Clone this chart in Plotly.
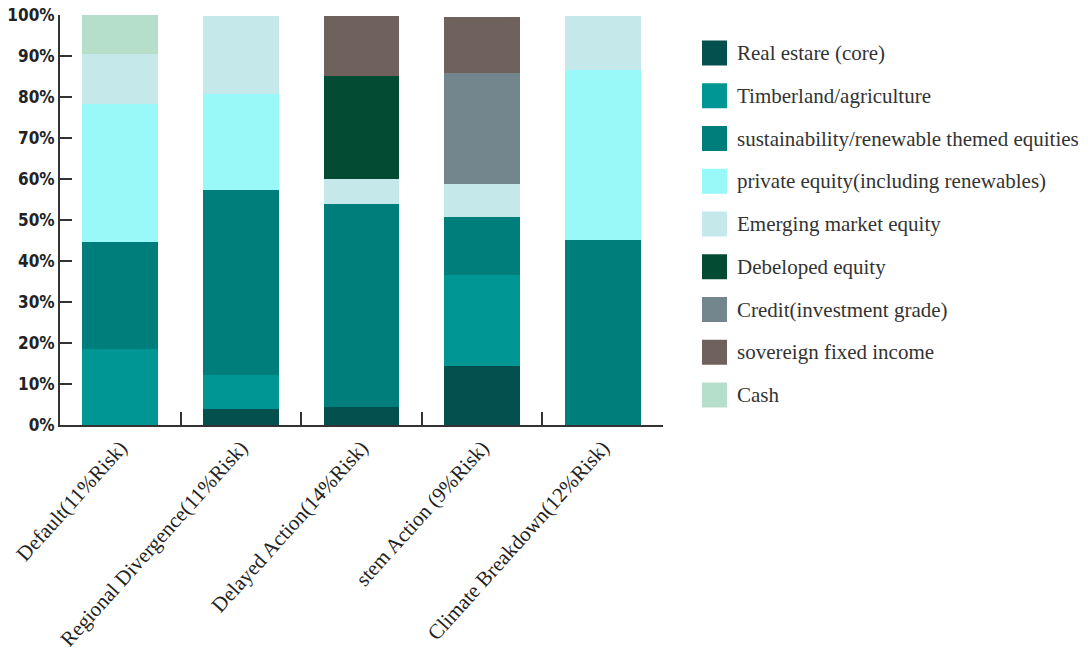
import plotly.graph_objects as go

categories = ["Default(11%Risk)", "Regional Divergence(11%Risk)", "Delayed Action(14%Risk)",
              "stem Action (9%Risk)", "Climate Breakdown(12%Risk)"]

series_names = ["Real estare (core)", "Timberland/agriculture",
                "sustainability/renewable themed equities",
                "private equity(including renewables)", "Emerging market equity",
                "Debeloped equity", "Credit(investment grade)",
                "sovereign fixed income", "Cash"]

real_estate    = [0,    3.9,  4.5,  14.5, 0]
timberland     = [18.5, 8.3,  0,    22.1, 0]
sustainability = [26.1, 45.0, 49.4, 14.1, 45.1]
private_equity = [33.7, 23.6, 0,    0,    41.4]
emerging       = [12.3, 18.9, 6.0,  8.0,  13.2]
developed      = [0,    0,    25.3, 0,    0]
credit         = [0,    0,    0,    27.2, 0]
sovereign      = [0,    0,    14.5, 13.6, 0]
cash           = [9.4,  0,    0,    0,    0]

series_values = [real_estate, timberland, sustainability, private_equity, emerging,
                 developed, credit, sovereign, cash]

colors = ["#03504F", "#009693", "#007E7C", "#99F8F8", "#C5E8EA",
          "#034B32", "#73858D", "#6F625C", "#B5DFCA"]

y_ticks = [0, 10, 20, 30, 40, 50, 60, 70, 80, 90, 100]
y_tick_labels = [f"{v}%" for v in y_ticks]

fig = go.Figure()
for name, vals, col in zip(series_names, series_values, colors):
    fig.add_trace(go.Bar(x=categories, y=vals, name=name, marker=dict(color=col, line=dict(width=0)),
                         width=0.63, showlegend=False))

W, H = 1092, 665
PL, PR, PT, PB = 60, 663, 15, 425          # plot area in pixels
L, T, R, B = PL, PT, W - PR, H - PB
pw, ph = PR - PL, PB - PT

def px_x(x):
    return (x - PL) / pw

def px_y(y):
    return (PB - y) / ph

shapes = []
annotations = []
row0, step = 53, 42.75
for i, (name, col) in enumerate(zip(series_names, colors)):
    cy = row0 + i * step
    shapes.append(dict(type="rect", xref="paper", yref="paper",
                       x0=px_x(702), x1=px_x(727), y0=px_y(cy + 12.5), y1=px_y(cy - 12.5),
                       fillcolor=col, line=dict(width=0)))
    annotations.append(dict(xref="paper", yref="paper", x=px_x(735), y=px_y(cy),
                            text=name, showarrow=False, xanchor="left", yanchor="middle",
                            font=dict(family="Liberation Serif, Times New Roman, serif", size=21, color="#333333")))

fig.update_layout(
    width=W, height=H,
    barmode="stack",
    bargap=0.37,
    plot_bgcolor="white", paper_bgcolor="white",
    margin=dict(l=L, r=R, t=T, b=B, autoexpand=False),
    shapes=shapes, annotations=annotations,
    xaxis=dict(
        type="category", range=[-0.5, 4.5],
        showline=True, linecolor="#333333", linewidth=2,
        ticks="inside", ticklen=13, tickwidth=2, tickcolor="#333333",
        tickson="boundaries", tickangle=-48,
        tickfont=dict(family="Liberation Serif, Times New Roman, serif", size=21, color="#222222"),
        showgrid=False, zeroline=False,
    ),
    yaxis=dict(
        range=[0, 100], tickvals=y_ticks, ticktext=y_tick_labels,
        showline=True, linecolor="#333333", linewidth=2,
        ticks="inside", ticklen=12, tickwidth=2, tickcolor="#333333",
        tickfont=dict(family="DejaVu Sans Condensed, Arial Narrow, sans-serif",
                      size=17, color="#222222", weight="bold"),
        showgrid=False, zeroline=False,
    ),
)

fig.write_html("out.html", config={"displayModeBar": False},
               post_script="document.body.style.margin='0';")
